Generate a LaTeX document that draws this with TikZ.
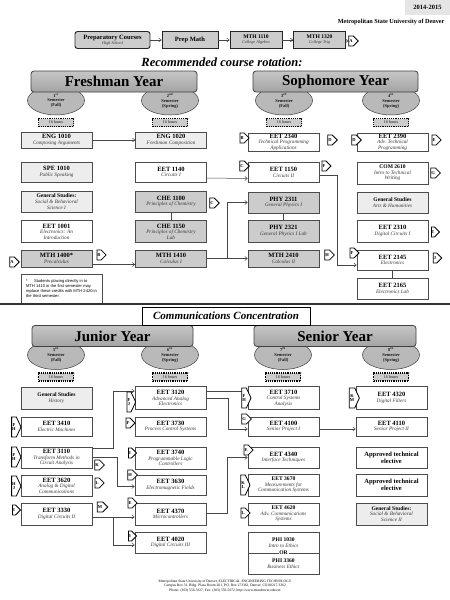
\documentclass[tikz,border=0pt]{standalone}
\usepackage{fontspec}
\setmainfont{Liberation Serif}
\newfontfamily\notefont{Liberation Sans}
\usetikzlibrary{arrows.meta, shapes.geometric, shapes.symbols}
\tikzset{
    >={Straight Barb[length=2.5pt,width=4pt]},
    pre/.style={->, gray!55!black, line width=0.5pt},
    coreq/.style={gray!55!black, line width=0.5pt},
    course/.style={draw=gray!60!black, line width=0.6pt, fill=white, minimum width=71pt, minimum height=#1, inner sep=0.5pt, align=center, font=\fontsize{5.2}{5.6}\selectfont},
    course/.default=20pt,
    core/.style={fill=gray!40},
    gened/.style={fill=gray!14},
    yearbar/.style={draw=gray!50!black, line width=0.8pt, rounded corners=3pt, top color=gray!45, bottom color=gray!72, minimum height=21pt, font=\fontsize{15}{15}\selectfont\bfseries},
    sem/.style={ellipse, draw=gray!50!black, line width=0.5pt, fill=gray!55, minimum width=57pt, minimum height=29pt, inner sep=0pt, align=center, font=\fontsize{4.5}{4.9}\selectfont\bfseries, text=gray!20!black},
    hrs/.style={draw=black, densely dotted, line width=1.2pt, fill=gray!40, minimum width=35pt, minimum height=8pt, inner sep=0pt, font=\fontsize{4.2}{4.2}\selectfont, text=gray!20!black},
    link/.style={signal, signal to=east, draw=black, line width=0.8pt, fill=white, minimum width=8pt, minimum height=10pt, inner sep=0.6pt, align=center, font=\fontsize{4.5}{4.6}\selectfont\bfseries},
    tall/.style={minimum height=20pt, signal pointer angle=130},
    toprow/.style={draw=gray!30!black, line width=0.7pt, fill=gray!40, minimum width=52pt, minimum height=17pt, inner sep=0.5pt, align=center, font=\fontsize{4.2}{5}\selectfont},
}
\newcommand{\cd}[1]{{\fontsize{6.5}{6.5}\selectfont\bfseries #1}}
\newcommand{\cds}[1]{{\fontsize{5.6}{5.6}\selectfont\bfseries #1}}
\newcommand{\nm}[1]{{\itshape\color{gray!45!black}#1}}

\begin{document}
\begin{tikzpicture}[x=1pt, y=-1pt]
    \useasboundingbox (0,0) rectangle (450,600);
    % header
    \node[fill=gray!20, minimum width=45pt, minimum height=15pt, font=\fontsize{6.5}{7}\selectfont\bfseries] (term) at (427.5,7.5) {2014-2015};
    \node[anchor=east, font=\fontsize{6.2}{7}\selectfont\bfseries] (msu) at (448,22) {Metropolitan State University of Denver};
    \node[toprow, rounded corners=2.5pt, minimum width=75pt, line width=0.9pt] (prep) at (112.5,40) {\cd{Preparatory Courses}\\\nm{High School}};
    \node[toprow, minimum width=56pt] (pmath) at (190,40) {\cd{Prep Math}};
    \node[toprow] (mth1110) at (256,40) {\cds{MTH 1110}\\\nm{College Algebra}};
    \node[toprow] (mth1320) at (319.5,40) {\cds{MTH 1320}\\\nm{College Trig}};
    \node[link] (lA) at (351,41) {A};
    \draw[pre] (prep) -- (pmath);
    \draw[pre] (pmath) -- (mth1110);
    \draw[pre] (mth1110) -- (mth1320);
    \draw[pre] (mth1320) -- (lA);
    \node[font=\fontsize{12.5}{13}\selectfont\bfseries\itshape] (rec) at (222,62) {Recommended course rotation:};

    % semesters
    \foreach \n/\x/\y/\sfx/\term in {1/56/100.5/st/Fall, 2/170/100.5/nd/Spring, 3/284/100.5/rd/Fall, 4/391/100.5/th/Spring,
                                     5/56/355/th/Fall, 6/170/355/th/Spring, 7/283/355/th/Fall, 8/391/355/th/Spring} {
        \node[sem] (sem\n) at (\x,\y) {\n\textsuperscript{\sfx}\\Semester\\(\term)};
        \node[hrs] (hrs\n) at (\x,\y+22) {16 hours};
    }
    \node[yearbar, minimum width=166pt] (fresh) at (114,81.5) {Freshman Year};
    \node[yearbar, minimum width=165pt] (soph) at (335.5,81.5) {Sophomore Year};
    \node[yearbar, minimum width=161pt] (jun) at (112.5,336) {Junior Year};
    \node[yearbar, minimum width=162pt] (sen) at (335,336) {Senior Year};

    % freshman
    \node[course=16pt, gened] (eng1010) at (56.5,140) {\cd{ENG 1010}\\\nm{Composing Arguments}};
    \node[course=16pt, gened] (eng1020) at (171,140) {\cd{ENG 1020}\\\nm{Freshman Composition}};
    \node[course, gened] (spe1010) at (56.5,172) {\cd{SPE 1010}\\\nm{Public Speaking}};
    \node[course] (eet1140) at (171,172) {\cd{EET 1140}\\\nm{Circuits I}};
    \node[course=21pt, gened] (gss1) at (56.5,201.5) {\cds{General Studies:}\\\nm{Social \& Behavioral}\\\nm{Science I}};
    \node[course=21pt, core] (che1100) at (171,201.5) {\cd{CHE 1100}\\\nm{Principles of Chemistry}};
    \node[course=22pt] (eet1001) at (56.5,231.5) {\cd{EET 1001}\\\nm{Electronics: An}\\\nm{Introduction}};
    \node[course=22pt, core] (che1150) at (171,231.5) {\cd{CHE 1150}\\\nm{Principles of Chemistry}\\\nm{Lab}};
    \node[course=17pt, core] (mth1400) at (56.5,258.5) {\cd{MTH 1400*}\\\nm{Precalculus}};
    \node[course=17pt, core] (mth1410) at (171,258.5) {\cd{MTH 1410}\\\nm{Calculus I}};
    \node[draw=gray!60!black, line width=0.5pt, minimum width=81pt, minimum height=29pt, inner sep=1.5pt, align=left, font=\notefont\fontsize{4.1}{5}\selectfont] (note) at (61.5,288.5)
        {*\quad\ \ Students placing directly in to\\MTH 1410 in the first semester may\\replace these credits with MTH 2420 in\\the third semester.};

    % sophomore
    \node[course=18pt] (eet2340) at (283.5,142) {\cd{EET 2340}\\\nm{Technical Programming}\\\nm{Applications}};
    \node[course=18pt] (eet2390) at (392.5,142) {\cd{EET 2390}\\\nm{Adv. Technical}\\\nm{Programming}};
    \node[course] (eet1150) at (283.5,172.5) {\cd{EET 1150}\\\nm{Circuits II}};
    \node[course=22pt] (com2610) at (392.5,173) {\cds{COM 2610}\\\nm{Intro to Technical}\\\nm{Writing}};
    \node[course=21pt, core] (phy2311) at (283.5,202.5) {\cd{PHY 2311}\\\nm{General Physics I}};
    \node[course=21pt, gened] (gsah) at (392.5,202.5) {\cds{General Studies}\\\nm{Arts \& Humanities}};
    \node[course=22pt, core] (phy2321) at (283.5,231) {\cd{PHY 2321}\\\nm{General Physics I Lab}};
    \node[course=22pt] (eet2310) at (392.5,231) {\cd{EET 2310}\\\nm{Digital Circuits I}};
    \node[course=17pt, core] (mth2410) at (283.5,258.5) {\cd{MTH 2410}\\\nm{Calculus II}};
    \node[course=20pt] (eet2145) at (392.5,260) {\cd{EET 2145}\\\nm{Electronics}};
    \node[course=21pt] (eet2165) at (392.5,288.5) {\cd{EET 2165}\\\nm{Electronics Lab}};

    \draw[pre] (eng1010) -- (eng1020);
    \draw[pre] ([yshift=-6pt]eet1140.east) -- ([yshift=-6pt]eet1150.west);
    \draw[pre] ([yshift=-6pt]mth1400.east) -- ([yshift=-6pt]mth1410.west);
    \draw[pre] (mth1410.east) -- ++(20,0) |- (phy2311.west);
    \draw[pre] (mth1410.east) -- (mth2410.west);
    \draw[pre] ([yshift=-3pt]eet1150.east) -- ++(18,0) |- ([yshift=-5pt]eet2145.west);
    \draw[coreq] (che1100) -- (che1150);
    \draw[coreq] (phy2311) -- (phy2321);
    \draw[coreq] (eet2145) -- (eet2165);

    % separator
    \draw[line width=1.6pt, gray!40!black] (0,304) -- (450,304);
    \node[draw=black, line width=0.6pt, fill=white, minimum width=168pt, minimum height=18pt, font=\fontsize{11}{11}\selectfont\bfseries\itshape] (conc) at (226,316) {Communications Concentration};

    % junior
    \node[course=22pt, gened] (gshist) at (56.5,398) {\cds{General Studies}\\\nm{History}};
    \node[course=19pt] (eet3410) at (56.5,426.5) {\cd{EET 3410}\\\nm{Electric Machines}};
    \node[course=21pt] (eet3110) at (56.5,457.5) {\cd{EET 3110}\\\nm{Transform Methods in}\\\nm{Circuit Analysis}};
    \node[course=21pt] (eet3620) at (56.5,485.5) {\cd{EET 3620}\\\nm{Analog \& Digital}\\\nm{Communications}};
    \node[course=22pt] (eet3330) at (56.5,514) {\cd{EET 3330}\\\nm{Digital Circuits II}};
    \node[course=23pt] (eet3120) at (170.5,398) {\cd{EET 3120}\\\nm{Advanced Analog}\\\nm{Electronics}};
    \node[course=19pt] (eet3730) at (170.5,426.5) {\cd{EET 3730}\\\nm{Process Control Systems}};
    \node[course=22pt] (eet3740) at (170.5,458) {\cd{EET 3740}\\\nm{Programmable Logic}\\\nm{Controllers}};
    \node[course=20pt] (eet3630) at (170.5,485) {\cd{EET 3630}\\\nm{Electromagnetic Fields}};
    \node[course=22pt] (eet4370) at (170.5,514) {\cd{EET 4370}\\\nm{Microcontrollers}};
    \node[course=21pt] (eet4020) at (170.5,542.5) {\cd{EET 4020}\\\nm{Digital Circuits III}};

    % senior
    \node[course=23pt] (eet3710) at (283.5,398) {\cd{EET 3710}\\\nm{Control Systems}\\\nm{Analysis}};
    \node[course=19pt] (eet4100) at (283.5,426.5) {\cd{EET 4100}\\\nm{Senior Project I}};
    \node[course=21pt] (eet4340) at (283.5,457.5) {\cd{EET 4340}\\\nm{Interface Techniques}};
    \node[course=22pt] (eet3670) at (283.5,485) {\cds{EET 3670}\\\nm{Measurements for}\\\nm{Communication Systems}};
    \node[course=22pt] (eet4620) at (283.5,514) {\cds{EET 4620}\\\nm{Adv. Communications}\\\nm{Systems}};
    \node[course=21pt] (phi1030) at (283.5,542.5) {\cds{PHI 1030}\\\nm{Intro to Ethics}};
    \node[course=21pt] (phi3360) at (283.5,563.5) {\cds{PHI 3360}\\\nm{Business Ethics}};
    \node[fill=white, inner sep=0.8pt, font=\fontsize{5.6}{5.6}\selectfont\bfseries] (phior) at (283.5,553) {OR};
    \node[course=23pt] (eet4320) at (391.5,398) {\cd{EET 4320}\\\nm{Digital Filters}};
    \node[course=19pt] (eet4110) at (391.5,426.5) {\cd{EET 4110}\\\nm{Senior Project II}};
    \node[course=21pt] (elect1) at (391.5,457.5) {\cd{Approved technical}\\\cd{elective}};
    \node[course=22pt] (elect2) at (391.5,485) {\cd{Approved technical}\\\cd{elective}};
    \node[course=22pt, gened] (gss2) at (391.5,514) {\cds{General Studies:}\\\nm{Social \& Behavioral}\\\nm{Science II}};

    \draw[pre] ([yshift=9.5pt]eet3110.east) -- ++(21,0) |- ([yshift=7pt]eet3120.west);
    \draw[pre] (eet3110.east) -- ++(25,0) |- ([yshift=-1.5pt]eet3630.west);
    \draw[pre] ([yshift=-3pt]eet3330.east) -- ([yshift=-3pt]eet4370.west);
    \draw[pre] ([yshift=-3pt]eet3330.east) -- ++(21,0) |- ([yshift=-2.5pt]eet4020.west);
    \draw[pre] ([yshift=7pt]eet3120.east) -- ([yshift=7pt]eet3710.west);
    \draw[pre] (eet3120.east) -- ++(22,0) |- ([yshift=-2.5pt]eet4100.west);
    \draw[pre] ([yshift=-2.5pt]eet4100.east) -- ([yshift=-2.5pt]eet4110.west);
    \draw[pre] ([yshift=1pt]eet4370.east) -- ++(21,0) |- (eet4340.west);

    % off-page links
    \node[link] (l1400in) at (12,262) {A};
    \node[link] (l1400out) at (99,255) {B};
    \node[link] (lche) at (212,203) {C};
    \node[link] (l2340in) at (242,138) {B};
    \node[link] (l2340out) at (330,140) {D};
    \node[link] (l2390in) at (354,140) {D};
    \node[link] (l2390out) at (434,140) {E};
    \node[link] (l1150in) at (242,166) {C};
    \node[link] (l1150out) at (324,166) {F};
    \node[link] (l2610out) at (433,173) {G};
    \node[link] (l2410out) at (327,255) {H};
    \node[link] (l2310out) at (433,232) {I};
    \node[link] (l2145in) at (352,253) {F};
    \node[link] (l2145out) at (435,258) {J};
    \node[link, tall] (l3120in) at (129,402) {F\\J};
    \node[link] (l3730in) at (128,423) {F};
    \node[link, tall] (l3410in) at (14,427) {F\\H};
    \node[link, tall] (l3110in) at (14,457) {F\\H};
    \node[link] (l3110out) at (97,465) {K};
    \node[link, tall] (l3620in) at (14,486) {H\\J};
    \node[link] (l3620out) at (97,483) {L};
    \node[link] (l3330in) at (14,510) {I};
    \node[link] (l3330out) at (100,507) {M};
    \node[link] (l3740in) at (130,453) {I};
    \node[link] (l3630in) at (130,475) {H};
    \node[link] (l4370in) at (130,503) {E};
    \node[link] (l4020in) at (130,536) {I};
    \node[link, tall] (l3710in) at (244,398) {F\\H};
    \node[link] (l4100in) at (244,419) {G};
    \node[link, tall] (l4320in) at (352,398) {K\\M};
    \node[link] (l4340in) at (246,450) {E};
    \node[link, tall] (l3670in) at (243,485) {K\\L};
    \node[link] (l4620in) at (243,513) {L};

    % footer
    \node[align=center, font=\fontsize{3.6}{4.8}\selectfont] (foot) at (225,586) {Metropolitan State University of Denver, ELECTRICAL ENGINEERING TECHNOLOGY\\Campus Box 31, Bldg. Plaza Room 201, P.O. Box 173362, Denver, CO 80217-3362\\Phone: (303) 556-3327, Fax: (303) 556-5072, http://www.msudenver.edu/eet};
\end{tikzpicture}
\end{document}
